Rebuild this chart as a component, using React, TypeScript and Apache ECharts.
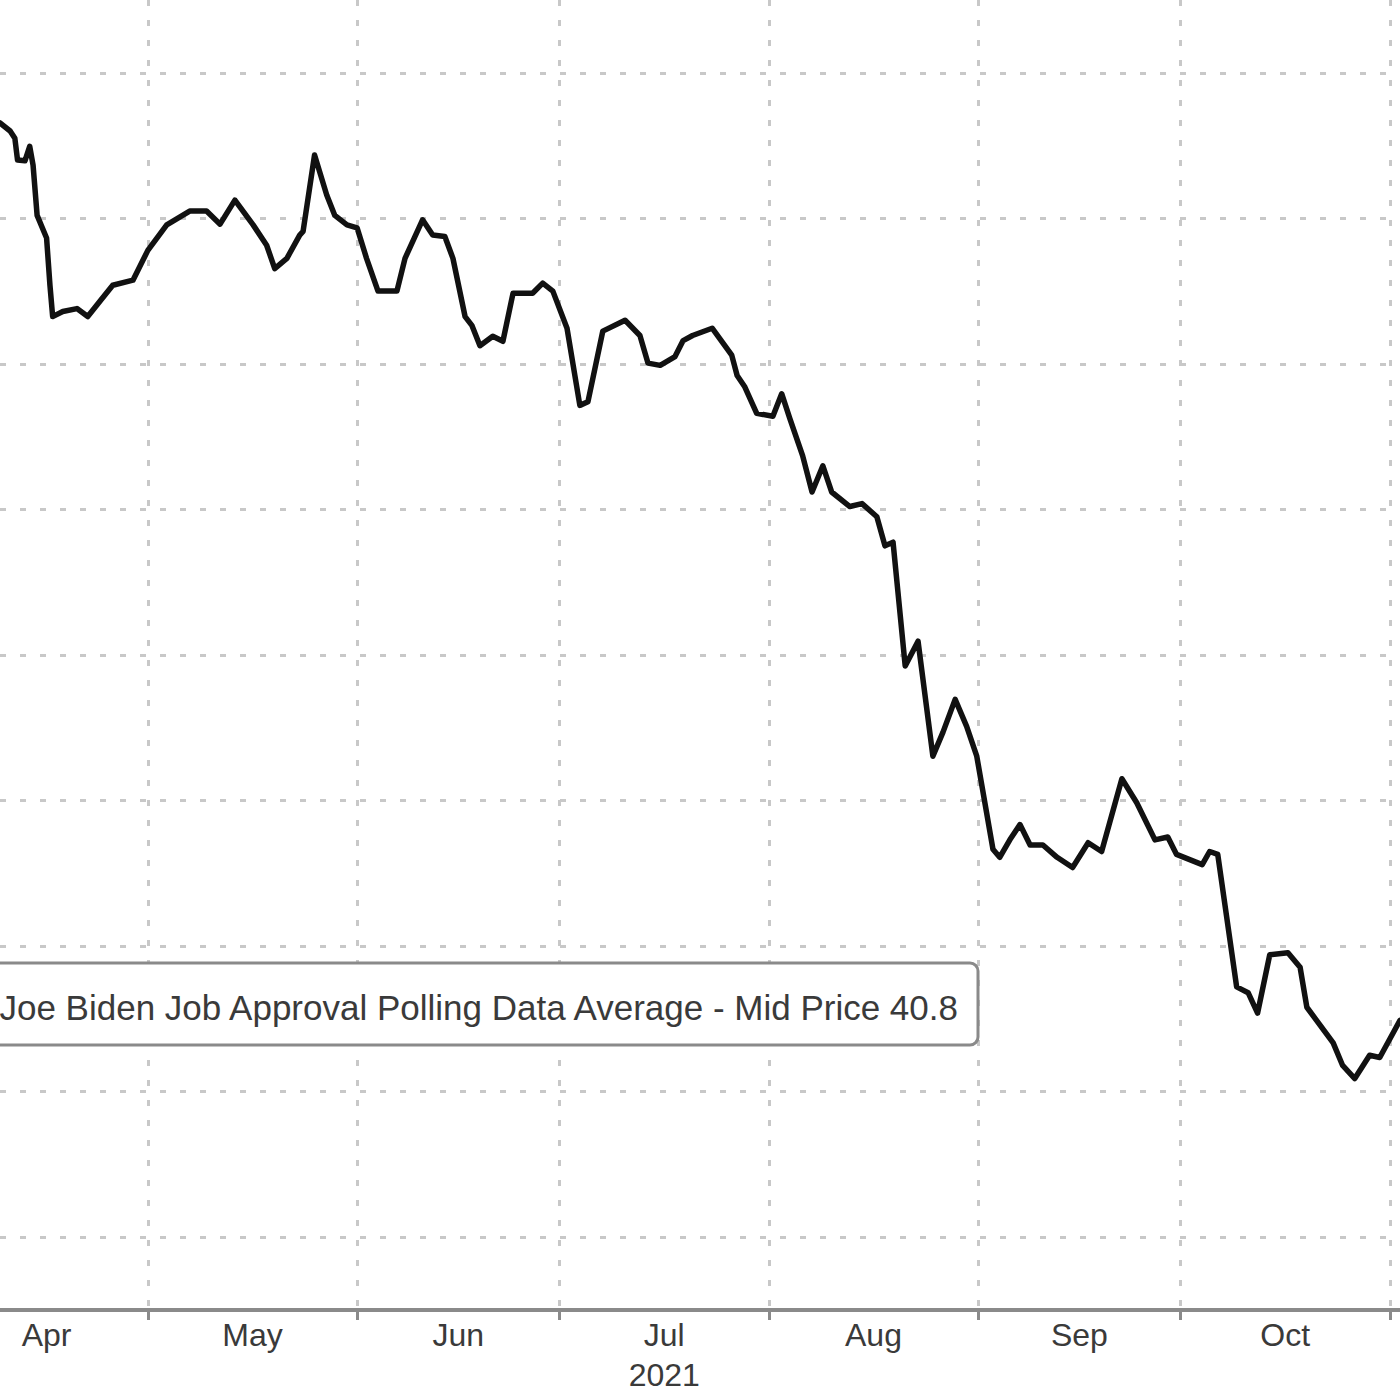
import React, { useEffect, useRef } from "react";
import * as echarts from "echarts";

// x: days since 2021-04-01, y: polling average
const days = [
  8.1, 9.6, 10.3, 10.7, 11.8, 12.5, 13.0, 13.6, 15.0, 15.5, 15.9, 17.4, 19.5, 21.1, 22.9, 24.8, 27.8,
  30.0, 32.8, 36.2, 38.7, 40.7, 42.9, 45.6, 47.6, 48.8, 50.6, 52.5, 53.0, 54.7, 56.5, 57.7, 59.5,
  61.0, 62.4, 64.1, 66.9, 68.1, 70.7, 72.2, 74.0, 75.2, 77.0, 78.0, 79.2, 81.1, 82.6, 84.1, 87.0,
  88.5, 90.0, 92.1, 94.0, 95.2, 97.4, 100.7, 102.9, 104.1, 105.9, 108.1, 109.3, 110.7, 113.6,
  116.5, 117.3, 118.4, 120.2, 122.6, 123.9, 125.1, 127.0, 128.4, 130.0, 131.3, 134.0, 135.8,
  138.0, 139.2, 140.4, 142.2, 144.1, 146.3, 147.8, 149.6, 151.3, 152.8, 155.2, 156.2, 157.7,
  159.2, 160.7, 162.6, 164.7, 167.0, 169.3, 171.3, 174.3, 176.5, 179.2, 181.1, 182.4, 186.2,
  187.3, 188.5, 191.3, 193.0, 194.4, 196.2, 198.9, 200.7, 201.7, 205.6, 207.0, 208.8, 211.0,
  212.5, 215.5,
];
const approval = [
  53.31, 53.2, 53.1, 52.8, 52.79, 52.99, 52.73, 52.04, 51.73, 51.08, 50.65, 50.72, 50.76, 50.65,
  50.86, 51.08, 51.15, 51.56, 51.91, 52.1, 52.1, 51.92, 52.25, 51.91, 51.63, 51.31, 51.45, 51.77,
  51.82, 52.87, 52.32, 52.04, 51.91, 51.87, 51.45, 51.0, 51.0, 51.45, 51.98, 51.77, 51.75, 51.45,
  50.65, 50.53, 50.25, 50.38, 50.31, 50.97, 50.97, 51.11, 51.0, 50.49, 49.43, 49.48, 50.45, 50.6,
  50.39, 50.01, 49.98, 50.1, 50.32, 50.39, 50.49, 50.12, 49.84, 49.69, 49.32, 49.28, 49.59, 49.25,
  48.74, 48.24, 48.6, 48.24, 48.04, 48.08, 47.9, 47.5, 47.55, 45.85, 46.19, 44.61, 44.94, 45.39,
  45.02, 44.61, 43.33, 43.22, 43.46, 43.67, 43.39, 43.39, 43.22, 43.08, 43.42, 43.3, 44.3, 43.97,
  43.46, 43.5, 43.26, 43.12, 43.3, 43.26, 41.44, 41.36, 41.08, 41.88, 41.91, 41.71, 41.16, 40.67,
  40.36, 40.18, 40.5, 40.47, 40.98,
];

// month boundaries (days since Apr 1) and label centres
const monthStarts = [30, 61, 91, 122, 153, 183, 214];
const labelDays = [15, 45.5, 76, 106.5, 137.5, 168, 198.5];
const monthNames = ["Apr", "May", "Jun", "Jul", "Aug", "Sep", "Oct"];
const yearLabel = "2021";
const legendText = "Joe Biden Job Approval Polling Data Average - Mid Price 40.8";

export default function App() {
  const ref = useRef<HTMLDivElement>(null);
  useEffect(() => {
    if (!ref.current) return;
    const chart = echarts.init(ref.current, undefined, { renderer: "svg" });
    const data = days.map((d, i) => [d, approval[i]]);
    const font = "'Liberation Sans', Arial, sans-serif";
    chart.setOption({
      animation: false,
      backgroundColor: "#ffffff",
      grid: { left: 0, right: 0, top: 0, bottom: 90, containLabel: false },
      xAxis: {
        type: "value",
        min: 8.1,
        max: 215.5,
        axisLine: { show: true, lineStyle: { color: "#8a8a8a", width: 4 } },
        axisTick: {
          show: true,
          customValues: monthStarts,
          length: 10,
          lineStyle: { color: "#8a8a8a", width: 3 },
        },
        splitLine: {
          show: true,
          lineStyle: { color: "#c8c8c8", width: 3, type: [6, 14] },
        },
        axisLabel: {
          show: true,
          customValues: labelDays,
          margin: 5,
          formatter: (v: number) => {
            const idx = labelDays.findIndex((d) => Math.abs(d - v) < 0.01);
            const name = idx >= 0 ? monthNames[idx] : "";
            return name === "Jul" ? `{m|${name}}\n{m|${yearLabel}}` : `{m|${name}}`;
          },
          rich: {
            m: { fontSize: 32, fontFamily: font, color: "#3a3a3a", lineHeight: 40 },
          },
        },
      },
      yAxis: {
        type: "value",
        min: 37,
        max: 55,
        interval: 1,
        axisLine: { show: false },
        axisTick: { show: false },
        axisLabel: { show: false },
        splitLine: {
          show: true,
          lineStyle: {
            color: ["rgba(0,0,0,0)", "#c8c8c8"],
            width: 3,
            type: [6, 14],
          },
        },
      },
      series: [
        {
          type: "line",
          name: legendText,
          data,
          showSymbol: false,
          symbol: "none",
          lineStyle: { color: "#111111", width: 5.5, join: "round", cap: "round" },
          clip: true,
        },
      ],
      graphic: [
        {
          type: "rect",
          shape: { x: -20, y: 963, width: 998, height: 82, r: 8 },
          style: { fill: "#ffffff", stroke: "#8a8a8a", lineWidth: 3 },
          z: 100,
        },
        {
          type: "text",
          x: 958,
          y: 1007,
          style: {
            text: legendText,
            align: "right",
            verticalAlign: "middle",
            fontSize: 35,
            fontFamily: font,
            fill: "#3a3a3a",
          },
          z: 101,
        },
      ],
    });
    return () => chart.dispose();
  }, []);
  return (
    <div
      ref={ref}
      style={{ position: "absolute", left: 0, top: 0, width: 1400, height: 1400 }}
    />
  );
}
